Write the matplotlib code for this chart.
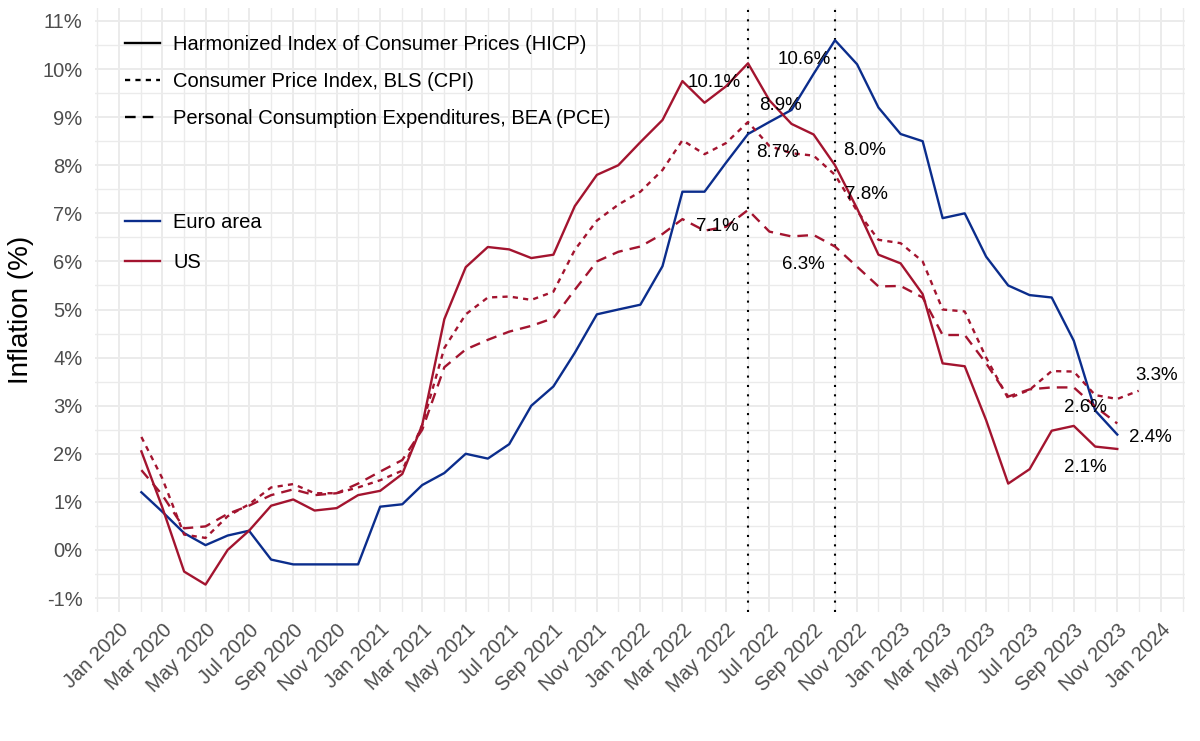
import numpy as np
import pandas as pd
import matplotlib
matplotlib.use("Agg")
import matplotlib.pyplot as plt
import matplotlib.dates as mdates
from matplotlib.lines import Line2D
from matplotlib.ticker import MultipleLocator, FuncFormatter

plt.rcParams['font.family'] = ['Liberation Sans', 'DejaVu Sans']

# monthly year-on-year inflation, Feb 2020 onwards
dates = pd.date_range('2020-02-01', periods=46, freq='MS')
cpi_dates = pd.date_range('2020-02-01', periods=47, freq='MS')

euro_hicp = [1.2, 0.8, 0.35, 0.1, 0.3, 0.4, -0.2, -0.3, -0.3, -0.3, -0.3,
             0.9, 0.95, 1.35, 1.6, 2.0, 1.9, 2.2, 3.0, 3.4, 4.1, 4.9, 5.0,
             5.1, 5.9, 7.45, 7.45, 8.05, 8.65, 8.9, 9.15, 9.9, 10.6, 10.1, 9.2,
             8.65, 8.5, 6.9, 7.0, 6.1, 5.5, 5.3, 5.25, 4.35, 2.9, 2.4]

us_hicp = [2.05, 0.9, -0.45, -0.72, 0.0, 0.4, 0.92, 1.05, 0.82, 0.87, 1.14,
           1.23, 1.58, 2.6, 4.8, 5.88, 6.3, 6.25, 6.07, 6.14, 7.15, 7.8, 8.0,
           8.48, 8.94, 9.75, 9.3, 9.64, 10.12, 9.35, 8.86, 8.64, 8.0, 7.1, 6.14,
           5.96, 5.32, 3.88, 3.82, 2.7, 1.38, 1.68, 2.48, 2.58, 2.15, 2.1]

us_cpi = [2.35, 1.5, 0.32, 0.25, 0.7, 0.95, 1.3, 1.37, 1.18, 1.18, 1.3,
          1.45, 1.65, 2.6, 4.2, 4.9, 5.25, 5.27, 5.2, 5.37, 6.24, 6.85, 7.18,
          7.45, 7.9, 8.52, 8.23, 8.46, 8.9, 8.4, 8.25, 8.2, 7.8, 7.05, 6.45,
          6.38, 6.0, 5.0, 4.96, 4.0, 3.15, 3.33, 3.72, 3.71, 3.22, 3.14, 3.31]

us_pce = [1.66, 1.15, 0.45, 0.49, 0.75, 0.92, 1.14, 1.26, 1.14, 1.18, 1.38,
          1.63, 1.87, 2.5, 3.8, 4.17, 4.37, 4.54, 4.66, 4.82, 5.41, 6.0, 6.2,
          6.31, 6.57, 6.88, 6.64, 6.72, 7.07, 6.62, 6.52, 6.55, 6.31, 5.89, 5.48,
          5.49, 5.25, 4.47, 4.47, 3.88, 3.19, 3.34, 3.38, 3.38, 2.98, 2.63]

# labelled points: series, month, text
labels = [("us_hicp", "2022-06-01", "10.1%"), ("euro", "2022-10-01", "10.6%"),
          ("cpi", "2022-06-01", "8.9%"), ("euro", "2022-06-01", "8.7%"),
          ("us_hicp", "2022-10-01", "8.0%"), ("cpi", "2022-10-01", "7.8%"),
          ("pce", "2022-06-01", "7.1%"), ("pce", "2022-10-01", "6.3%"),
          ("cpi", "2023-12-01", "3.3%"), ("pce", "2023-11-01", "2.6%"),
          ("euro", "2023-11-01", "2.4%"), ("us_hicp", "2023-11-01", "2.1%")]
label_offsets = [(-34, -19), (-31, -19), (32, 16), (30, -19), (30, 15), (31, -20),
                 (-31, -17), (-32, -18), (18, 15), (-32, 16), (33, -3), (-32, -19)]

blue = '#0b2d8c'
red = '#a3142f'
grid_col = '#ebebeb'

series = {
    "euro": pd.Series(euro_hicp, index=dates),
    "us_hicp": pd.Series(us_hicp, index=dates),
    "cpi": pd.Series(us_cpi, index=cpi_dates),
    "pce": pd.Series(us_pce, index=dates),
}

fig = plt.figure(figsize=(12, 7.41), dpi=100)
ax = fig.add_axes([0.0792, 0.1741, 0.9083, 0.8151])

dotted = (0, (2.2, 2.2))
dashed = (0, (4.5, 3))
lw = 1.7

ax.plot(dates, euro_hicp, color=blue, lw=lw)
ax.plot(dates, us_hicp, color=red, lw=lw)
ax.plot(cpi_dates, us_cpi, color=red, lw=lw, linestyle=dotted)
ax.plot(dates, us_pce, color=red, lw=lw, linestyle=dashed)

# vertical markers at the peaks
for s in ("us_hicp", "euro"):
    ax.axvline(series[s].idxmax(), color='black', lw=1.5, linestyle=(0, (1, 3.5)), zorder=1)

for (key, month, txt), (dx, dy) in zip(labels, label_offsets):
    d = pd.Timestamp(month)
    ax.annotate(txt, (d, series[key][d]), xytext=(dx, dy), textcoords='offset pixels',
                ha='center', va='center', fontsize=13.5, color='black')

ax.set_xlim(pd.Timestamp('2019-11-28'), pd.Timestamp('2024-02-04'))
ax.set_ylim(-1.29, 11.27)

ax.xaxis.set_major_locator(mdates.MonthLocator(bymonth=[1, 3, 5, 7, 9, 11]))
ax.xaxis.set_minor_locator(mdates.MonthLocator())
ax.xaxis.set_major_formatter(mdates.DateFormatter('%b %Y'))
ax.yaxis.set_major_locator(MultipleLocator(1))
ax.yaxis.set_minor_locator(MultipleLocator(0.5))
ax.yaxis.set_major_formatter(FuncFormatter(lambda v, p: f"{v:.0f}%"))

ax.grid(True, which='major', color=grid_col, lw=1.4)
ax.grid(True, which='minor', color=grid_col, lw=1.0)
ax.set_axisbelow(True)
for sp in ax.spines.values():
    sp.set_visible(False)
ax.tick_params(which='both', length=0)
ax.tick_params(axis='y', labelsize=14.5, labelcolor='#4d4d4d', pad=9)
ax.tick_params(axis='x', labelsize=14.5, labelcolor='#4d4d4d', pad=6)
plt.setp(ax.get_xticklabels(), rotation=45, ha='right', va='top', rotation_mode='anchor')

ax.set_ylabel("Inflation (%)", fontsize=20, labelpad=6)

type_handles = [Line2D([], [], color='black', lw=lw),
                Line2D([], [], color='black', lw=lw, linestyle=dotted),
                Line2D([], [], color='black', lw=lw, linestyle=dashed)]
leg1 = ax.legend(type_handles, ["Harmonized Index of Consumer Prices (HICP)",
                                "Consumer Price Index, BLS (CPI)",
                                "Personal Consumption Expenditures, BEA (PCE)"],
                 loc='upper left', bbox_to_anchor=(0.0275, 0.955), frameon=False,
                 fontsize=14.5, handlelength=1.75, handletextpad=0.65,
                 labelspacing=0.9, borderpad=0, borderaxespad=0)
ax.add_artist(leg1)

area_handles = [Line2D([], [], color=blue, lw=lw), Line2D([], [], color=red, lw=lw)]
ax.legend(area_handles, ["Euro area", "US"], loc='upper left',
          bbox_to_anchor=(0.0275, 0.661), frameon=False, fontsize=14.5,
          handlelength=1.75, handletextpad=0.65, labelspacing=1.05,
          borderpad=0, borderaxespad=0)

fig.savefig("out.png", dpi=100, facecolor='white')
